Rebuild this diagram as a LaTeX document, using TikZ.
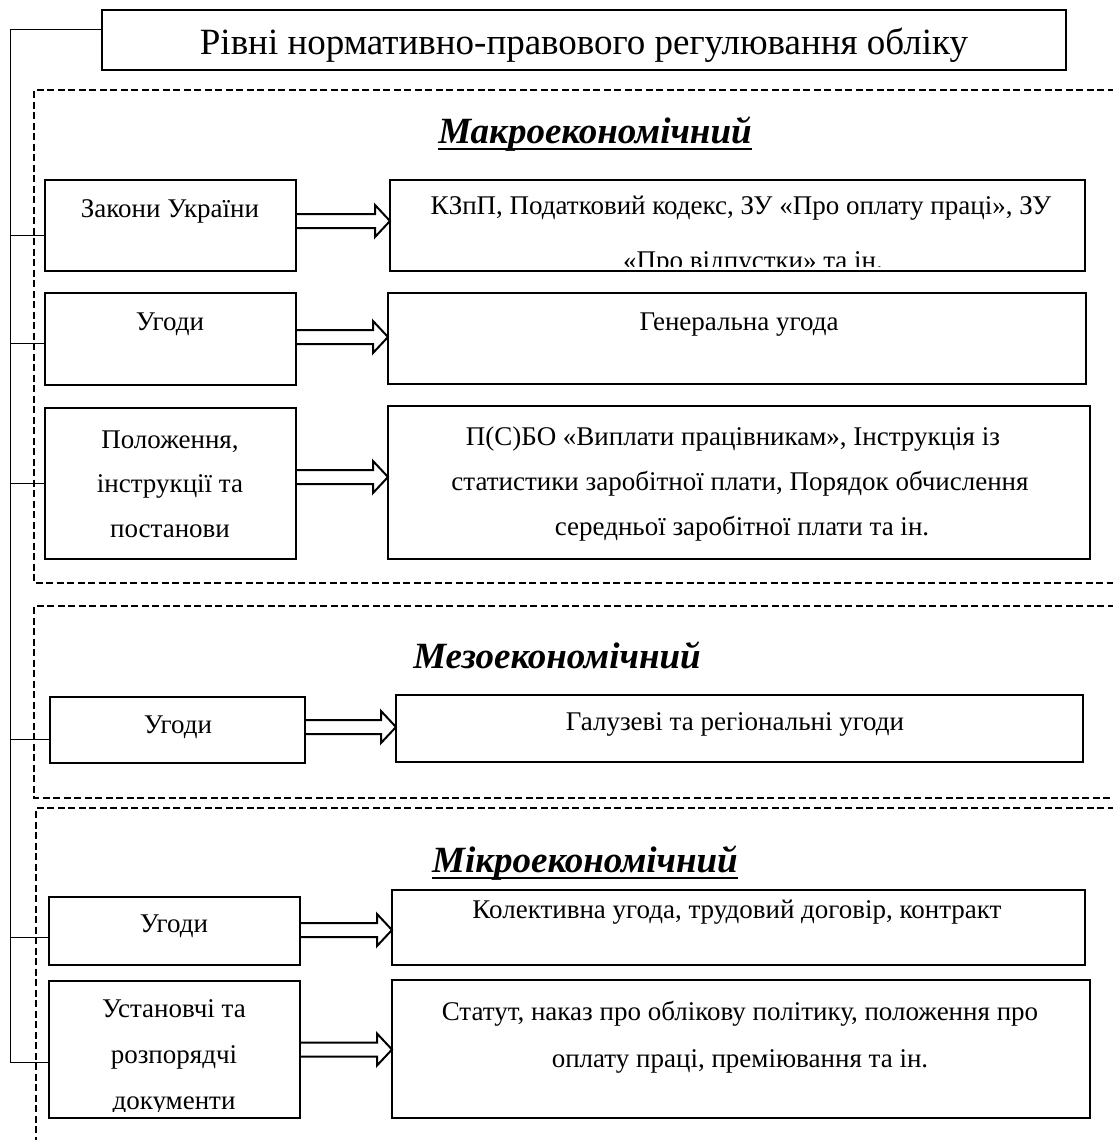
\documentclass[tikz,border=0pt]{standalone}
\usepackage{fontspec}
\setmainfont{Liberation Serif}
\usetikzlibrary{calc}
\tikzset{
 box/.style={draw, line width=2.5pt, inner sep=0pt, outer sep=0pt},
 titlebox/.style={draw, line width=1.2pt, inner sep=0pt, outer sep=0pt},
 txt/.style={inner sep=0pt, outer sep=0pt, font=\fontsize{27}{27}\selectfont, anchor=base},
 headtxt/.style={inner sep=0pt, outer sep=0pt, font=\fontsize{37}{37}\selectfont\bfseries\itshape, anchor=base},
 ttl/.style={inner sep=0pt, outer sep=0pt, font=\fontsize{37}{37}\selectfont, anchor=base},
 zone/.style={line width=2.2pt, dash pattern=on 7pt off 3.5pt},
 thinline/.style={line width=1pt},
 arr/.style={line width=2pt, line join=miter},
 uline/.style={line width=1.8pt},
}
\newcommand\mkbox[6][box]{\node[#1, minimum width={#5-#3}, minimum height={#6-#4}] (#2) at ({(#3+#5)/2},{(#4+#6)/2}) {};}
\newcommand\harrow[3]{%
 \draw[arr] let \p1=($(#1.east)+(0,#3)$), \p2=(#2.west) in
 (\x1,\y1+7pt) -- (\x2-15pt,\y1+7pt) -- (\x2-15pt,\y1+16pt) -- (\x2,\y1) -- (\x2-15pt,\y1-16pt) -- (\x2-15pt,\y1-7pt) -- (\x1,\y1-7pt);}
\newcommand\tick[3]{\coordinate (#1) at ($(#2.west)+(0,#3)$); \draw[thinline] (#1) -- (#1 -| bartop);}
\begin{document}
\begin{tikzpicture}[x=1pt,y=-1pt]
\useasboundingbox (0,0) rectangle (1112,1140);
\fill[white] (0,0) rectangle (1112,1140);

% title
\mkbox[titlebox]{T}{102}{10}{1066}{70}
\node[ttl] (tT) at (584,55) {Рівні нормативно-правового регулювання обліку};

% zones
\draw[zone] (1125,90) -- (34,90) -- (34,583) -- (1125,583);
\draw[zone] (1125,606) -- (34,606) -- (34,798) -- (1125,798);
\draw[zone] (1125,808) -- (36,808) -- (36,1150);

% headings
\node[headtxt] (hMac) at (595,143) {Макроекономічний};
\draw[uline] ([yshift=-6pt]hMac.base west) -- ([yshift=-6pt]hMac.base east);
\node[headtxt] (hMes) at (557,668) {Мезоекономічний};
\node[headtxt] (hMic) at (585,872) {Мікроекономічний};
\draw[uline] ([yshift=-6pt]hMic.base west) -- ([yshift=-6pt]hMic.base east);

% macro boxes
\mkbox{L1}{45}{180}{296}{271}
\mkbox{R1}{390}{180}{1085}{271}
\mkbox{L2}{45}{293}{296}{385}
\mkbox{R2}{388}{293}{1086}{384}
\mkbox{L3}{45}{408}{296}{559}
\mkbox{R3}{388}{406}{1090}{559}
% meso
\mkbox{M1}{50}{697}{305}{763}
\mkbox{N1}{396}{695}{1083}{762}
% micro
\mkbox{P1}{49}{897}{300}{965}
\mkbox{Q1}{392}{890}{1085}{965}
\mkbox{P2}{49}{981}{300}{1118}
\mkbox{Q2}{392}{980}{1090}{1118}

% texts
\node[txt] (tL1) at (170,217) {Закони України};
\node[txt] (tR1a) at (741,214) {КЗпП, Податковий кодекс, ЗУ «Про оплату праці», ЗУ};
\begin{scope}
\clip (395,240) rectangle (1080,266);
\node[txt] (tR1b) at (753,269) {«Про відпустки» та ін.};
\end{scope}
\node[txt] (tL2) at (170,330) {Угоди};
\node[txt] (tR2) at (739,330) {Генеральна угода};
\node[txt] (tL3a) at (170,448) {Положення,};
\node[txt] (tL3b) at (170,492) {інструкції та};
\node[txt] (tL3c) at (170,537) {постанови};
\node[txt] (tR3a) at (733,445) {П(С)БО «Виплати працівникам», Інструкція із};
\node[txt] (tR3b) at (740,490) {статистики заробітної плати, Порядок обчислення};
\node[txt] (tR3c) at (742,535) {середньої заробітної плати та ін.};
\node[txt] (tM1) at (178,733) {Угоди};
\node[txt] (tN1) at (735,730) {Галузеві та регіональні угоди};
\node[txt] (tP1) at (174,932) {Угоди};
\node[txt] (tQ1) at (737,918) {Колективна угода, трудовий договір, контракт};
\node[txt] (tP2a) at (174,1017) {Установчі та};
\node[txt] (tP2b) at (174,1063) {розпорядчі};
\begin{scope}
\clip (55,1080) rectangle (295,1111);
\node[txt] (tP2c) at (174,1109) {документи};
\end{scope}
\node[txt] (tQ2a) at (740,1020) {Статут, наказ про облікову політику, положення про};
\node[txt] (tQ2b) at (740,1067) {оплату праці, преміювання та ін.};

% arrows
\harrow{L1}{R1}{-4.5}
\harrow{L2}{R2}{-2}
\harrow{L3}{R3}{-6.5}
\harrow{M1}{N1}{-3}
\harrow{P1}{Q1}{-1}
\harrow{P2}{Q2}{0}

% bracket
\coordinate (bartop) at (10,30);
\coordinate (barbot) at (10,1062);
\draw[thinline] (bartop) -- (bartop -| T.west);
\draw[thinline] (bartop) -- (barbot);
\tick{k1}{L1}{9.5}
\tick{k2}{L2}{4}
\tick{k3}{L3}{0}
\tick{k4}{M1}{9}
\tick{k5}{P1}{6}
\tick{k6}{P2}{12.5}
\end{tikzpicture}
\end{document}
